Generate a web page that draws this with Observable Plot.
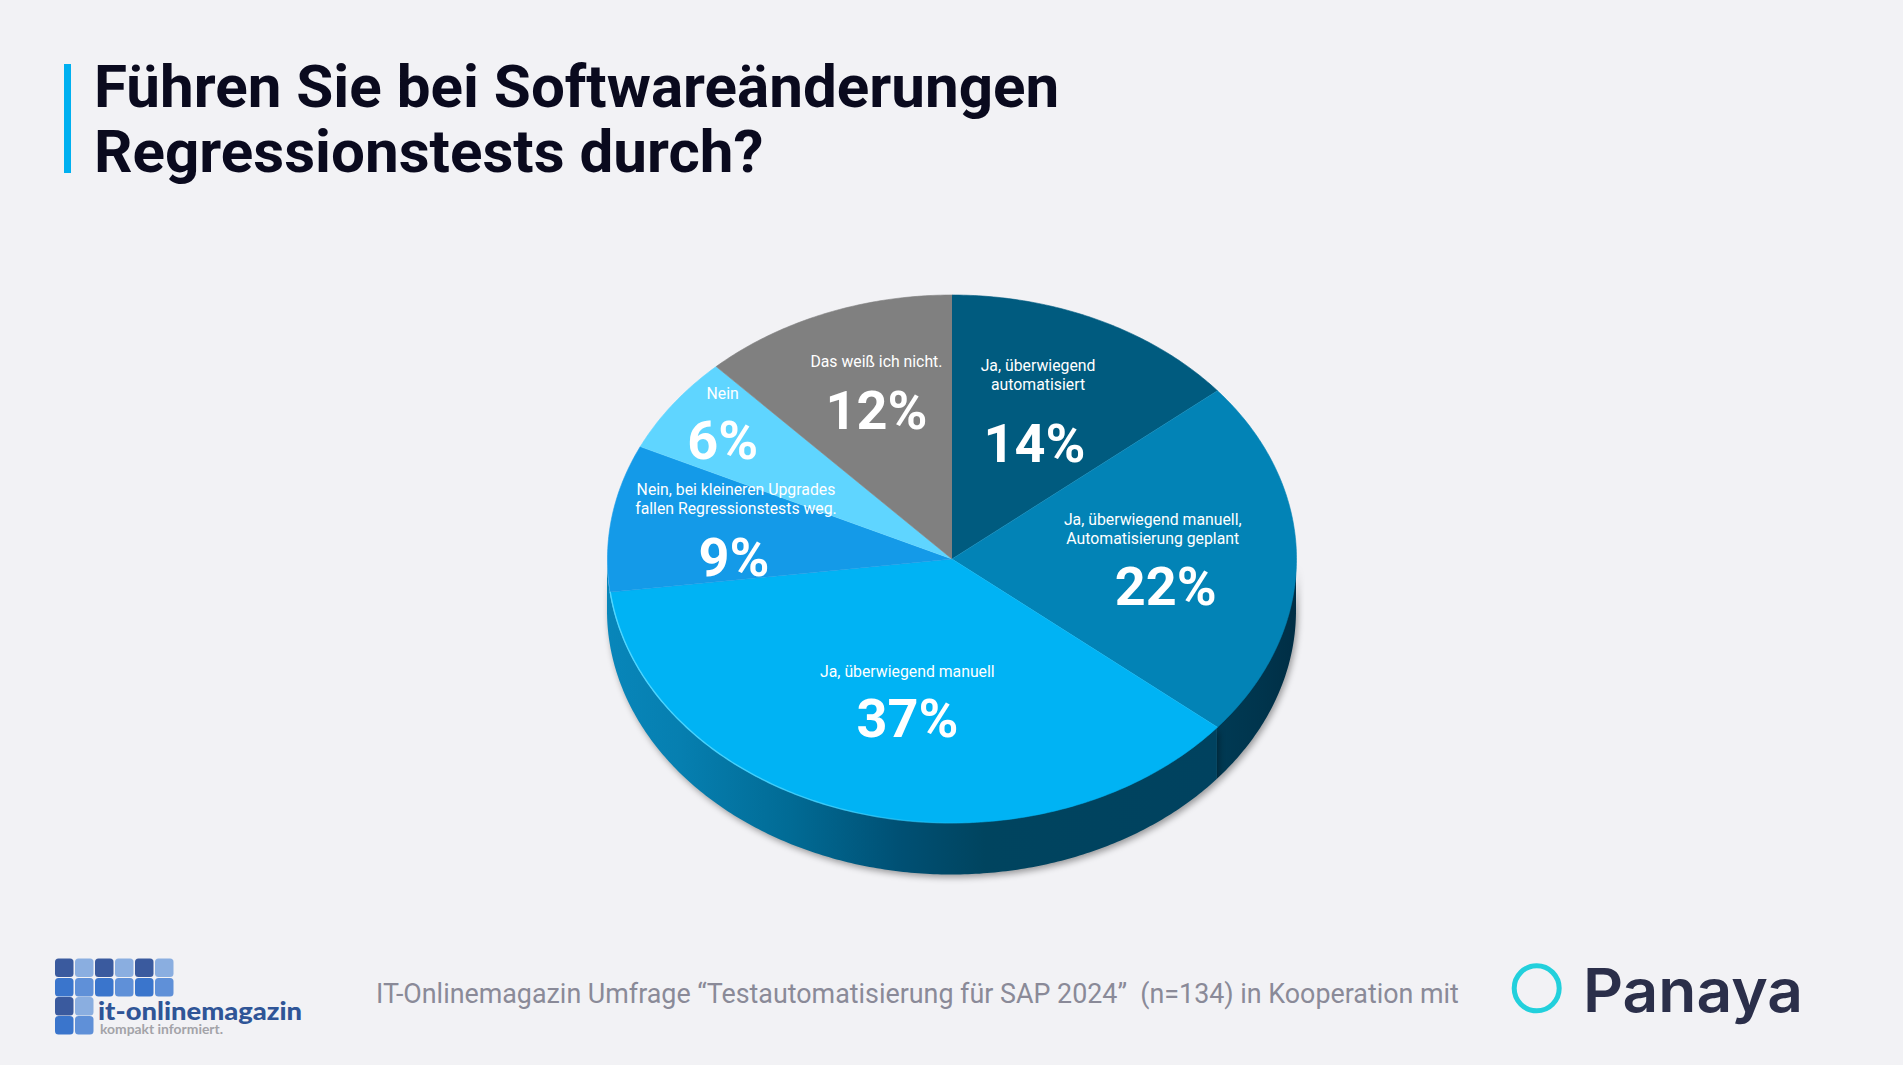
<!DOCTYPE html>
<html lang="de">
<head>
<meta charset="utf-8">
<title>Führen Sie bei Softwareänderungen Regressionstests durch?</title>
<script src="https://cdn.jsdelivr.net/npm/d3@7"></script>
<script src="https://cdn.jsdelivr.net/npm/@observablehq/plot@0.6"></script>
<style>
  html, body { margin: 0; padding: 0; width: 1903px; height: 1065px; overflow: hidden; background: #f2f2f5; font-family: Roboto, sans-serif; }
  #chart { position: absolute; left: 0; top: 0; }
  #chart svg { background: transparent; display: block; }
  .wall { filter: drop-shadow(2px 3px 3px rgba(0,0,0,.36)); }
  #bar { position: absolute; left: 64px; top: 64px; width: 7px; height: 109px; background: #00b0f0; }
  h1 { position: absolute; left: 94px; top: 54px; margin: 0; font: 700 60.15px/65.4px Roboto, sans-serif; color: #0a0a1e; white-space: nowrap; }
  #source { position: absolute; left: 376px; top: 976px; font: 400 26.85px/36px Roboto, sans-serif; color: #8a8a98; white-space: pre; }
  #logos { position: absolute; left: 0; top: 940px; }
</style>
</head>
<body>
<div id="chart"></div>
<div id="bar"></div>
<h1>Führen Sie bei Softwareänderungen<br>Regressionstests durch?</h1>
<div id="source">IT-Onlinemagazin Umfrage “Testautomatisierung für SAP 2024”  (n=134) in Kooperation mit</div>
<svg id="logos" width="1903" height="125" xmlns="http://www.w3.org/2000/svg"></svg>
<script>
// --- chart data, clockwise from 12 o'clock ---
const categories = ["Ja, überwiegend automatisiert", "Ja, überwiegend manuell, Automatisierung geplant", "Ja, überwiegend manuell", "Nein, bei kleineren Upgrades fallen Regressionstests weg.", "Nein", "Das weiß ich nicht."];
const nameLines = ["Ja, überwiegend\nautomatisiert", "Ja, überwiegend manuell,\nAutomatisierung geplant", "Ja, überwiegend manuell", "Nein, bei kleineren Upgrades\nfallen Regressionstests weg.", "Nein", "Das weiß ich nicht."];
const percents = [14, 22, 37, 9, 6, 12];
const sliceColors = ["#005b7f", "#0283b6", "#00b3f4", "#149ae8", "#5fd5ff", "#808080"];

// --- label placement relative to each slice's middle ---
const labelTurn = [4, 10, -3.8, -10, -2.3, 0.7];
const labelRadius = [0.5, 0.63, 0.617, 0.633, 0.8, 0.607];
const pctDx = [-1.5, 0, 1, 0, 0, -1];
const pctDy = [1.2, 0, 1.2, -3.6, 0, 2.4];
const nameDx = [2, -13, 1, 2, 0, -1];
const nameDy = [-69.4, -59.7, -47.8, -63.8, -49, -48.4];

// --- projection of the tilted disc onto the page ---
const centre = {x: 951.5, y: 558.5};
const radius = {x: 344.5, y: 264};
const depth = 52 / 264;

const pie = d3.pie().sort(null).value(d => d)(percents);
const onRim = a => ({x: Math.sin(a), y: -Math.cos(a)});
const arcPoints = (a0, a1) => d3.range(0, 1.0001, 1 / Math.max(2, Math.ceil((a1 - a0) * 90))).map(t => onRim(a0 + (a1 - a0) * t));

const topFace = pie.flatMap((s, i) => [{x: 0, y: 0}, ...arcPoints(s.startAngle, s.endAngle)].map(p => ({...p, name: categories[i]})));

// side wall: the visible front half is split at the boundary of the 22 % and 37 % slices
const splitAngle = pie[1].endAngle;
const wallRight = arcPoints(Math.PI / 2, splitAngle).map(p => ({...p, y2: p.y + depth}));
const wallLeft = arcPoints(splitAngle, 1.5 * Math.PI).map(p => ({...p, y2: p.y + depth}));
const rimHighlight = arcPoints(pie[2].startAngle + 0.8, pie[2].endAngle);

const labels = pie.map((s, i) => {
  const a = (s.startAngle + s.endAngle) / 2 + labelTurn[i] * Math.PI / 180;
  const p = onRim(a);
  return {x: p.x * labelRadius[i], y: p.y * labelRadius[i], pct: percents[i] + "%", name: nameLines[i], i};
});

const gradient = (id, stops) => () => {
  const g = d3.create("svg:linearGradient").attr("id", id).attr("x1", 0).attr("x2", 1).attr("y1", 0).attr("y2", 0);
  stops.forEach(([o, c, a]) => g.append("stop").attr("offset", o).attr("stop-color", c).attr("stop-opacity", a ?? 1));
  return g.node();
};

const plot = Plot.plot({
  width: 1903, height: 1065, margin: 0,
  x: {type: "linear", domain: [-1, 1], range: [centre.x - radius.x, centre.x + radius.x], axis: null},
  y: {type: "linear", domain: [-1, 1], range: [centre.y - radius.y, centre.y + radius.y], axis: null},
  color: {type: "ordinal", domain: categories, range: sliceColors},
  style: {background: "transparent", overflow: "visible"},
  marks: [
    gradient("wallL", [[0, "#0886ba"], [0.12, "#067fb0"], [0.3, "#016b95"], [0.48, "#005074"], [0.62, "#00445f"], [1, "#00425f"]]),
    gradient("wallR", [[0, "#003a54"], [0.6, "#00344c"], [1, "#002e45"]]),
    gradient("rim", [[0, "#4fd6ff"], [0.6, "#4fd6ff", 0.7], [1, "#4fd6ff", 0]]),
    Plot.area(wallRight, {x1: "x", y1: "y", y2: "y2", fill: "url(#wallR)", curve: "linear", className: "wall"}),
    Plot.area(wallLeft, {x1: "x", y1: "y", y2: "y2", fill: "url(#wallL)", curve: "linear", className: "wall"}),
    Plot.line(topFace, {x: "x", y: "y", z: "name", fill: "name", stroke: "name", strokeWidth: 0.6, curve: "linear"}),
    Plot.line(rimHighlight, {x: "x", y: "y", stroke: "url(#rim)", strokeWidth: 1.4, curve: "linear"}),
    ...labels.map(l => Plot.text([l], {x: "x", y: "y", text: "pct", dx: pctDx[l.i], dy: pctDy[l.i], fill: "white", fontSize: 54, fontWeight: 700, fontFamily: "Roboto", textAnchor: "middle"})),
    ...labels.map(l => Plot.text([l], {x: "x", y: "y", text: "name", dx: nameDx[l.i], dy: nameDy[l.i], fill: "white", fontSize: 15.8, fontFamily: "Roboto", textAnchor: "middle", lineHeight: 1.23}))
  ]
});
document.getElementById("chart").append(plot);

// --- logos ---
const logos = d3.select("#logos");
const tileRows = [["#3a5a9e", "#8aaee0"], ["#3a75cc", "#5f90d8"], ["#3a5a9e", "#8aaee0"], ["#3a75cc", "#5f90d8"]];
const tileCols = [6, 6, 2, 2];
const tileY = [18.5, 38, 57, 76];
tileRows.forEach((pair, r) => d3.range(tileCols[r]).forEach(c => {
  logos.append("rect").attr("x", 55 + c * 20).attr("y", tileY[r]).attr("width", 18.5).attr("height", 18.5).attr("rx", 3.5).attr("fill", pair[c % 2]);
}));
logos.append("text").attr("x", 98).attr("y", 79.5).attr("textLength", 204).attr("lengthAdjust", "spacingAndGlyphs")
  .attr("font-family", "Lato").attr("font-weight", 900).attr("font-size", 24.5).attr("fill", "#2f5597").text("it-onlinemagazin");
logos.append("text").attr("x", 100).attr("y", 94).attr("textLength", 123).attr("lengthAdjust", "spacingAndGlyphs")
  .attr("font-family", "Lato").attr("font-weight", 700).attr("font-size", 13).attr("fill", "#a3a3a8").text("kompakt informiert.");
logos.append("circle").attr("cx", 1536.7).attr("cy", 48.3).attr("r", 22.5).attr("fill", "none").attr("stroke", "#22d0dc").attr("stroke-width", 5);
logos.append("text").attr("x", 1583).attr("y", 72).attr("textLength", 220).attr("lengthAdjust", "spacingAndGlyphs")
  .attr("font-family", "Inter").attr("font-weight", 600).attr("font-size", 60).attr("fill", "#2b2f4a").text("Panaya");
</script>
</body>
</html>
